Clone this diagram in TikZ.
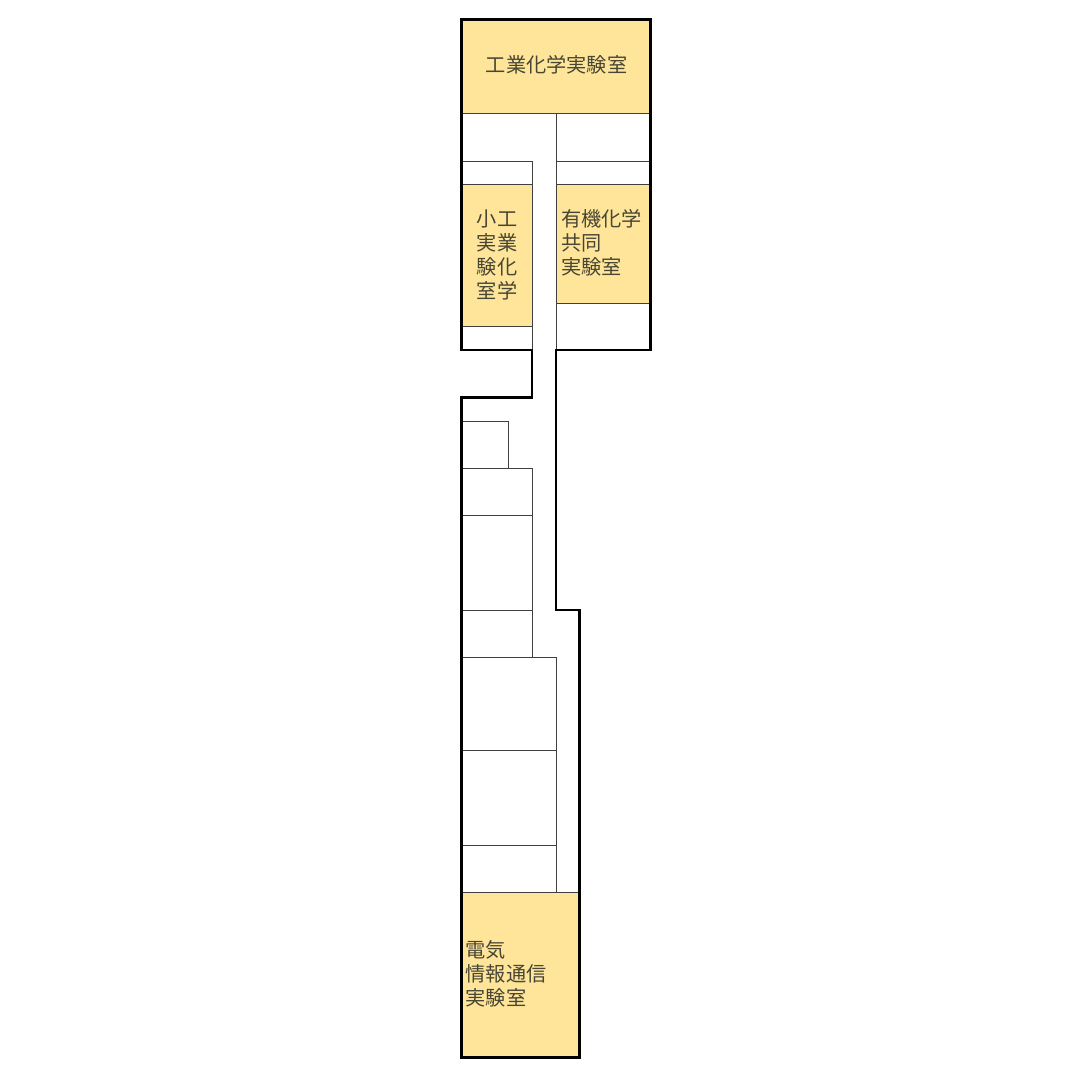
\documentclass[tikz,border=0pt]{standalone}
\usepackage{fontspec}
\setmainfont{Noto Sans CJK JP}
\tikzset{
  x=1pt,y=-1pt,
  room/.style={fill=roomfill,draw=thinline,line width=0.9pt},
  partition/.style={draw=thinline,line width=0.9pt},
  outline/.style={draw=black,line width=2.3pt,line join=miter},
  label/.style={font=\fontsize{20.2pt}{24pt}\selectfont,text=textcol,inner sep=0pt,align=left}
}
\definecolor{roomfill}{HTML}{FFE599}
\definecolor{thinline}{HTML}{404040}
\definecolor{textcol}{HTML}{484634}
\begin{document}
\begin{tikzpicture}
\useasboundingbox (0,0) rectangle (1087,1080);
\fill[white] (0,0) rectangle (1087,1080);
% coloured rooms
\path[room] (461.5,19.5) rectangle (650.5,113.5);
\path[room] (461.5,184.5) rectangle (532,326.5);
\path[room] (556,184.5) rectangle (650.5,303);
\path[room] (461.5,892) rectangle (579.5,1057.5);
% partitions, upper block
\draw[partition] (556,113.5) -- (556,350);
\draw[partition] (461.5,161) -- (532,161) -- (532,350);
\draw[partition] (556,161) -- (650.5,161);
% partitions, lower block
\draw[partition] (461.5,421) -- (508,421) -- (508,468);
\draw[partition] (461.5,468) -- (532,468) -- (532,657.5);
\draw[partition] (461.5,515.5) -- (532,515.5);
\draw[partition] (461.5,610) -- (532,610);
\draw[partition] (461.5,657.5) -- (556,657.5) -- (556,892);
\draw[partition] (461.5,750) -- (556,750);
\draw[partition] (461.5,845) -- (556,845);
% building outline
\draw[outline] (461.5,19.5) -- (650.5,19.5) -- (650.5,350) -- (556,350) -- (556,610) -- (579.5,610) -- (579.5,1057.5) -- (461.5,1057.5) -- (461.5,397.5) -- (532,397.5) -- (532,350) -- (461.5,350) -- cycle;
% labels
\node[label] (kogyo) at (556.5,65) {工業化学実験室};
\node[label,align=center] (shoko) at (497,255) {小工\\実業\\験化\\室学};
\node[label,anchor=west] (yuki) at (561,243) {有機化学\\共同\\実験室};
\node[label,anchor=west] (denki) at (465.5,974) {電気\\情報通信\\実験室};
\end{tikzpicture}
\end{document}
